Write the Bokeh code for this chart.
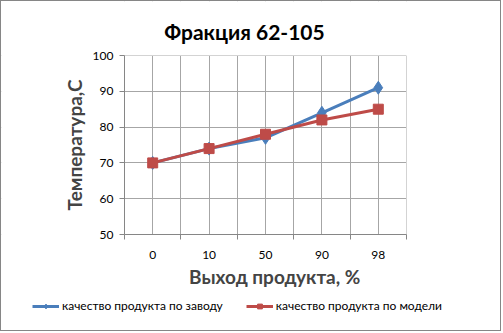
from bokeh.plotting import figure
from bokeh.models import (FixedTicker, Legend, LegendItem, Range1d, Label, BoxAnnotation)
from bokeh.embed import file_html
from bokeh.resources import INLINE
import numpy as np

categories = ["0", "10", "50", "90", "98"]
plant_quality = [70, 74, 77, 84, 91]
model_quality = [70, 74, 78, 82, 85]
y_ticks = [50, 60, 70, 80, 90, 100]
y_min, y_max = 50, 100

title_text = "Фракция 62-105"
x_label = "\u00a0\u00a0\u00a0\u00a0Выход продукта, %"
y_label = "Температура,С"
plant_name = "качество продукта по заводу"
model_name = "качество продукта по модели"

FONT = "Lato"
W, H = 501, 331
# plot-area placement inside the canvas (pixels)
PA_LEFT, PA_RIGHT, PA_TOP, PA_BOTTOM = 123, 405, 54, 233

n = len(categories)
px_x = (PA_RIGHT - PA_LEFT) / n
px_y = (PA_BOTTOM - PA_TOP) / (y_max - y_min)
x_range = Range1d(0 - PA_LEFT / px_x, n + (W - PA_RIGHT) / px_x)
y_range = Range1d(y_min - (H - PA_BOTTOM) / px_y, y_max + PA_TOP / px_y)

xs = np.arange(n) + 0.5

p = figure(width=W, height=H, output_backend="svg", toolbar_location=None,
           x_range=x_range, y_range=y_range,
           min_border_left=0, min_border_right=0, min_border_top=0, min_border_bottom=0)
p.styles = {"border": "1px solid #868686"}
p.outline_line_color = None
p.background_fill_color = "white"
p.border_fill_color = "white"

grid_color = "#a6a6a6"
axis_color = "#868686"

# x axis
p.xaxis.fixed_location = y_min
p.xaxis.bounds = (0, n)
p.xaxis.ticker = FixedTicker(ticks=list(xs), minor_ticks=list(range(n + 1)))
p.xaxis.major_label_overrides = {float(x): c for x, c in zip(xs, categories)}
p.xaxis.major_tick_in = 0
p.xaxis.major_tick_out = 0
p.xaxis.minor_tick_in = 0
p.xaxis.minor_tick_out = 5
p.xaxis.minor_tick_line_color = axis_color
p.xaxis.axis_line_color = axis_color
p.xaxis.major_label_standoff = 11
p.xaxis.major_label_text_font = FONT
p.xaxis.major_label_text_font_size = "12px"
p.xaxis.major_label_text_color = "black"
p.xaxis.axis_label = x_label
p.xaxis.axis_label_text_font = FONT
p.xaxis.axis_label_text_font_style = "bold"
p.xaxis.axis_label_text_font_size = "19px"
p.xaxis.axis_label_standoff = 3

p.xgrid.ticker = FixedTicker(ticks=list(xs), minor_ticks=list(range(n + 1)))
p.xgrid.grid_line_color = grid_color
p.xgrid.minor_grid_line_color = grid_color

# y axis
p.yaxis.fixed_location = 0
p.yaxis.bounds = (y_min, y_max)
p.yaxis.ticker = FixedTicker(ticks=y_ticks, minor_ticks=[])
p.yaxis.major_tick_in = 0
p.yaxis.major_tick_out = 5
p.yaxis.minor_tick_out = 0
p.yaxis.minor_tick_in = 0
p.yaxis.major_tick_line_color = axis_color
p.yaxis.axis_line_color = axis_color
p.yaxis.major_label_standoff = 6
p.yaxis.major_label_text_font = FONT
p.yaxis.major_label_text_font_size = "12px"
p.yaxis.major_label_text_color = "black"
p.yaxis.axis_label = y_label
p.yaxis.axis_label_text_font = FONT
p.yaxis.axis_label_text_font_style = "bold"
p.yaxis.axis_label_text_font_size = "19px"
p.yaxis.axis_label_standoff = 4
p.ygrid.grid_line_color = grid_color

# white masks so grid lines stay inside the plot area
for kw in (dict(right=0), dict(left=n), dict(top=y_min), dict(bottom=y_max)):
    p.add_layout(BoxAnnotation(fill_color="white", fill_alpha=1, line_color=None,
                               level="underlay", **kw))

blue = "#4a7ebb"
red = "#be4b48"

bl = p.line(xs, plant_quality, line_color=blue, line_width=3)
bm = p.scatter(xs, plant_quality, marker="diamond", size=13, fill_color=blue, line_color=blue)
rl = p.line(xs, model_quality, line_color=red, line_width=3)
rm = p.scatter(xs, model_quality, marker="square", size=10, fill_color=red, line_color=red)

p.add_layout(Label(x=243, y=H - 30, x_units="screen", y_units="screen", text=title_text,
                   text_align="center", text_baseline="middle", text_font=FONT,
                   text_font_style="bold", text_font_size="21px", text_color="black"))

legend = Legend(items=[LegendItem(label=plant_name, renderers=[bl, bm]),
                       LegendItem(label=model_name, renderers=[rl, rm])],
                location=(31, 19), orientation="horizontal",
                label_text_font=FONT, label_text_font_size="12px",
                label_text_color="black", glyph_width=27, glyph_height=12,
                label_standoff=3, spacing=23, padding=0, margin=0,
                border_line_color=None, background_fill_alpha=0)
p.add_layout(legend, "center")

open("out.html", "w").write(file_html(p, INLINE))
